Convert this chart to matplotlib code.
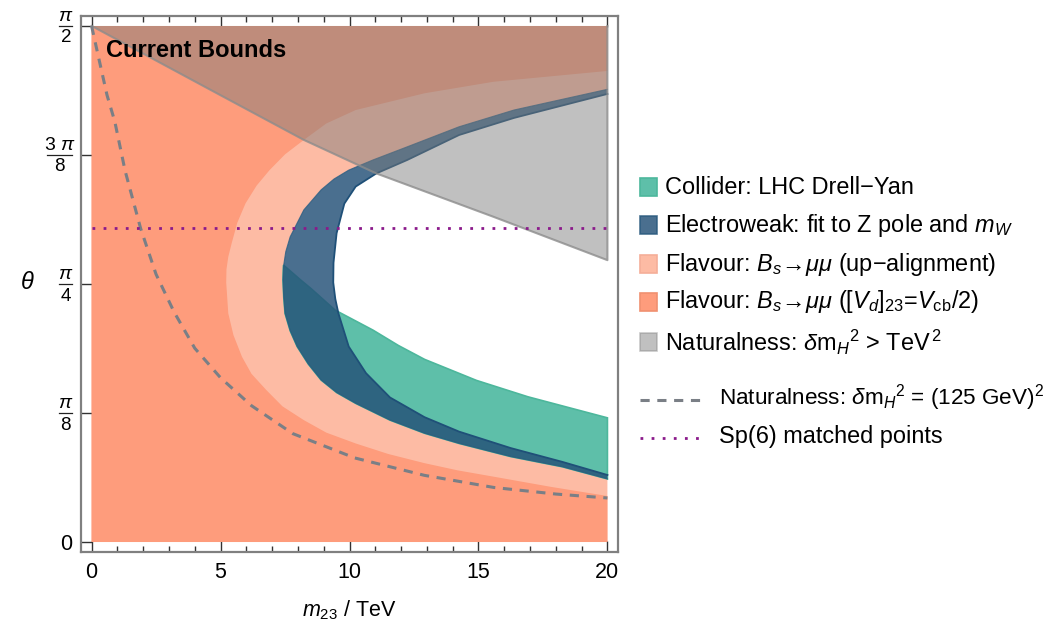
import numpy as np
import matplotlib
matplotlib.use("Agg")
import matplotlib.pyplot as plt
from matplotlib.patches import Rectangle
from matplotlib.lines import Line2D

plt.rcParams['font.family'] = ['Liberation Sans', 'DejaVu Sans']
plt.rcParams['mathtext.fontset'] = 'custom'
plt.rcParams['mathtext.rm'] = 'Liberation Sans'
plt.rcParams['mathtext.it'] = 'Liberation Sans:italic'
plt.rcParams['mathtext.bf'] = 'Liberation Sans:bold'

HALF_PI = np.pi / 2
X_MAX = 20.0

# Flavour ([V_d]_23 = V_cb/2) exclusion edge, upper branch -> lower branch
flav_vd_x = [20.0, 15.58, 12.91, 10.24, 9.10, 8.23, 7.50, 6.90, 6.40, 5.97, 5.65, 5.43, 5.30, 5.23, 5.22, 5.30,
             5.50, 5.83, 6.20, 6.77, 7.40, 8.23, 9.10, 10.24, 11.50, 12.91, 14.20, 15.58, 17.80, 20.0]
flav_vd_t = [1.434, 1.401, 1.366, 1.315, 1.274, 1.224, 1.180, 1.132, 1.085, 1.031, 0.972, 0.909, 0.868, 0.830,
             0.790, 0.696, 0.630, 0.564, 0.512, 0.463, 0.413, 0.371, 0.333, 0.300, 0.268, 0.240, 0.218, 0.199,
             0.168, 0.140]

# Electroweak band: outer edge (also the up-alignment flavour edge) and inner edge
ew_out_x = [20.0, 16.38, 14.25, 12.24, 10.91, 9.97, 9.40, 8.90, 8.23, 7.70, 7.53, 7.44, 7.42, 7.45, 7.50, 7.70, 7.97,
            8.40, 8.90, 9.50, 10.24, 11.57, 12.91, 14.25, 16.25, 18.25, 20.0]
ew_out_t = [1.378, 1.315, 1.264, 1.203, 1.163, 1.132, 1.105, 1.072, 1.011, 0.929, 0.884, 0.838, 0.798, 0.745,
            0.696, 0.643, 0.595, 0.542, 0.493, 0.455, 0.422, 0.371, 0.331, 0.300, 0.260, 0.229, 0.192]
ew_in_x = [20.0, 16.38, 14.25, 12.24, 11.04, 10.24, 9.80, 9.50, 9.38, 9.37, 9.45, 9.57, 9.97, 10.64, 11.57, 12.91,
           14.25, 16.25, 18.25, 20.0]
ew_in_t = [1.364, 1.291, 1.239, 1.163, 1.122, 1.082, 1.030, 0.940, 0.850, 0.790, 0.740, 0.696, 0.595, 0.514, 0.440,
           0.380, 0.336, 0.286, 0.244, 0.204]

# Collider (LHC Drell-Yan) upper edge, left -> right
dy_x = [7.44, 8.10, 8.50, 9.44, 10.91, 11.90, 12.91, 14.92, 16.92, 20.0]
dy_t = [0.843, 0.798, 0.772, 0.706, 0.645, 0.598, 0.556, 0.492, 0.442, 0.378]

# Naturalness: dm_H^2 > TeV^2, lower edge
nat_x = [0.0, 2.23, 5.0, 8.23, 11.04, 15.58, 20.0]
nat_t = [1.571, 1.477, 1.360, 1.224, 1.122, 0.990, 0.858]

# Naturalness: dm_H^2 = (125 GeV)^2 contour
nat125_x = [0.0, 0.3, 0.6, 0.9, 1.3, 1.9, 2.5, 3.2, 4.0, 5.0, 6.2, 7.8, 10.2, 12.9, 15.6, 18.0, 20.0]
nat125_t = [1.571, 1.465, 1.360, 1.280, 1.130, 0.955, 0.815, 0.700, 0.590, 0.500, 0.415, 0.330, 0.256, 0.203,
            0.166, 0.146, 0.134]

# Sp(6) matched points
sp6_theta = 0.955

# y ticks as fractions of pi: (value, numerator, denominator)
y_fracs = [(np.pi / 8, r'$\pi$', '8'), (np.pi / 4, r'$\pi$', '4'),
           (3 * np.pi / 8, r'$3\ \pi$', '8'), (np.pi / 2, r'$\pi$', '2')]

C_ORANGE = '#FE9C7C'
C_PINK = '#FDBBA4'
C_TEAL = '#5EBFA9'
C_BLUE = '#255278'
A_BLUE = 0.83
C_GRAY = '#7A7A7A'
A_GRAY = 0.47

W, H = 1043, 621
fig = plt.figure(figsize=(W / 100, H / 100), dpi=100)
ax = fig.add_axes([81 / W, 69 / H, 537 / W, 536 / H])


def left_of(cx, ct):
    xs = [0.0, X_MAX] + list(cx[::-1]) + [X_MAX, 0.0]
    ts = [0.0, 0.0] + list(ct[::-1]) + [HALF_PI, HALF_PI]
    return xs, ts


# up-alignment flavour region reaches the electroweak outer edge
px_, pt_ = left_of(ew_out_x, ew_out_t)
ax.fill(px_, pt_, color=C_PINK, lw=0, zorder=1)
ox_, ot_ = left_of(flav_vd_x, flav_vd_t)
ax.fill(ox_, ot_, color=C_ORANGE, lw=0, zorder=2)

# collider band: upper edge, then back along the lower electroweak branch
i0 = ew_out_t.index(0.798)
lower_x = ew_out_x[i0:]
lower_t = ew_out_t[i0:]
tx = dy_x + lower_x[::-1]
tt = dy_t + lower_t[::-1]
ax.fill(tx, tt, facecolor=C_TEAL, edgecolor='#4DB79C', lw=1.2, zorder=3)

# electroweak band
bx = ew_out_x + ew_in_x[::-1]
bt = ew_out_t + ew_in_t[::-1]
ax.fill(bx, bt, facecolor=C_BLUE, alpha=A_BLUE, lw=0, zorder=4)
ax.plot(ew_out_x, ew_out_t, color='#2A5A7E', lw=0.8, alpha=0.8, zorder=4.1)
ax.plot(ew_in_x, ew_in_t, color='#1F5078', lw=1.3, zorder=4.1)

# naturalness region
gx = nat_x + [X_MAX, 0.0]
gt = nat_t + [HALF_PI, HALF_PI]
ax.fill(gx, gt, facecolor=C_GRAY, alpha=A_GRAY, lw=0, zorder=5)
ax.plot(nat_x + [X_MAX], nat_t + [HALF_PI], color='#8C8C8C', lw=1.5, alpha=0.8, zorder=5.1)

ax.plot(nat125_x, nat125_t, color='#7A7F86', lw=2.2, ls=(0, (3, 2.5)), zorder=6)
ax.plot([0, X_MAX], [sp6_theta, sp6_theta], color='#8B1A8B', lw=2.0, ls=(0, (1, 3)), zorder=6)

ax.text(0.56, 1.495, 'Current Bounds', fontsize=17, fontweight='bold', va='center', ha='left', zorder=7)

ax.set_xlim(-0.41, 20.41)
ax.set_ylim(-0.0304, HALF_PI + 0.0304)
ax.set_xticks([0, 5, 10, 15, 20])
ax.set_xticks(np.arange(0, 21, 1), minor=True)
ax.set_yticks([0] + [v for v, _, _ in y_fracs])
ax.set_yticklabels(['0'] + [''] * len(y_fracs))
ax.tick_params(axis='x', which='both', direction='in', top=True, labelsize=15.5, color='#333333', pad=7)
ax.tick_params(axis='x', which='major', length=8, width=1)
ax.tick_params(axis='x', which='minor', length=4, width=1)
ax.tick_params(axis='y', which='both', direction='in', right=False, labelsize=15.5, length=8, width=1,
               color='#333333', pad=6)
for s in ax.spines.values():
    s.set_color('#808080')
    s.set_linewidth(1.6)

# fraction tick labels on the theta axis, right-aligned next to the frame
to_fig = fig.transFigure.inverted()
x_right = 72.0
for val, num, den in y_fracs:
    ypix = ax.transData.transform((0, val))[1]
    wbar = 25.0 if num.startswith(r'$3') else 12.5
    xc = x_right - wbar / 2
    fx, fy = to_fig.transform((xc, ypix))
    fx0, _ = to_fig.transform((x_right - wbar, ypix))
    fx1, _ = to_fig.transform((x_right, ypix))
    _, fyn = to_fig.transform((xc, ypix + 5))
    _, fyd = to_fig.transform((xc, ypix - 3.5))
    fig.text(fx, fyn, num, fontsize=14, ha='center', va='baseline')
    fig.text(fx, fyd, den, fontsize=13.5, ha='center', va='top')
    fig.lines.append(Line2D([fx0, fx1], [fy, fy], transform=fig.transFigure, color='#222222', lw=0.9))

ax.set_xlabel(r'$m_{23}$ / TeV', fontsize=15.5, labelpad=11)
fig.text(20 / W, 1 - 283 / H, r'$\theta$', fontsize=17, ha='left', va='center')

# legend
entries = [
    (C_TEAL, 1.0, '#4DB79C', 'Collider: LHC Drell\u2212Yan', 187, 16.9),
    (C_BLUE, A_BLUE, '#2A5A7E', 'Electroweak: fit to Z pole and $m_W$', 225, 16.9),
    (C_PINK, 1.0, '#F5AE98', 'Flavour: $B_s\\!\\rightarrow\\!\\mu\\mu$ (up\u2212alignment)', 264, 16.9),
    (C_ORANGE, 1.0, '#F09070', 'Flavour: $B_s\\!\\rightarrow\\!\\mu\\mu$ ([$V_d$]$_{23}$=$V_{\\mathrm{cb}}$/2)', 302, 16.9),
    (C_GRAY, A_GRAY, '#8C8C8C', 'Naturalness: $\\delta\\mathrm{m}_H{}^2$ > TeV$^{\\,2}$', 342, 16.9),
]
for fc, al, ec, label, yc, fs in entries:
    fig.patches.append(Rectangle((639.5 / W, 1 - (yc + 8.7) / H), 17.4 / W, 17.4 / H,
                                 transform=fig.transFigure, facecolor=fc, alpha=al,
                                 edgecolor=ec, lw=1.2))
    fig.text(665 / W, 1 - yc / H, label, fontsize=fs, ha='left', va='center')

fig.lines.append(Line2D([640 / W, 702 / W], [1 - 400 / H, 1 - 400 / H], transform=fig.transFigure,
                        color='#7A7F86', lw=2.2, ls=(0, (3, 2.5))))
fig.text(719 / W, 1 - 398 / H, 'Naturalness: $\\delta\\mathrm{m}_H{}^2$ = (125 GeV)$^2$', fontsize=16.2,
         ha='left', va='center')
fig.lines.append(Line2D([640 / W, 702 / W], [1 - 438 / H, 1 - 438 / H], transform=fig.transFigure,
                        color='#8B1A8B', lw=2.0, ls=(0, (1, 3))))
fig.text(719 / W, 1 - 437 / H, 'Sp(6) matched points', fontsize=16.9, ha='left', va='center')

fig.savefig('out.png', dpi=100)
